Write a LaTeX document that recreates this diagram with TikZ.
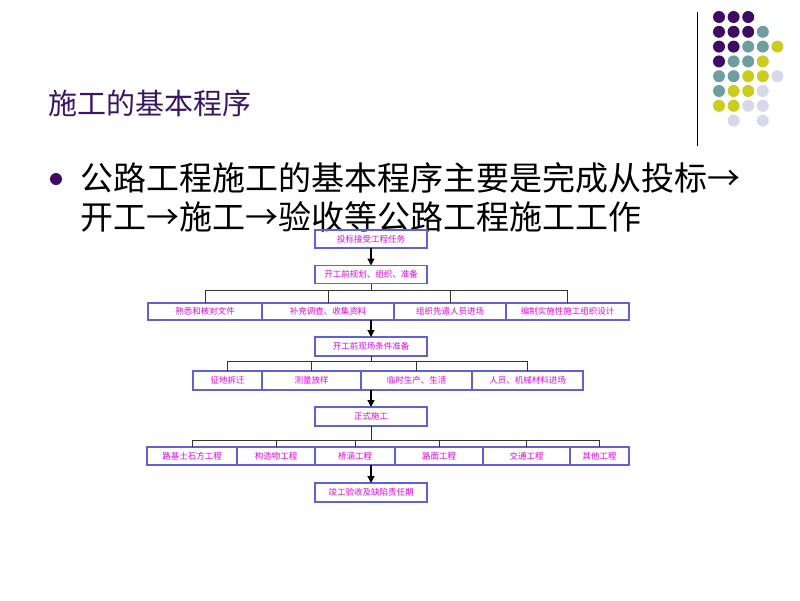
\documentclass[tikz,border=0pt]{standalone}
\usepackage{fontspec}
\setmainfont{Noto Sans CJK SC}
\usetikzlibrary{arrows.meta, positioning}
\definecolor{titlepurple}{RGB}{60,20,100}
\definecolor{dotpurple}{RGB}{62,12,100}
\definecolor{dotteal}{RGB}{110,158,160}
\definecolor{dotyellow}{RGB}{204,204,30}
\definecolor{dotlilac}{RGB}{216,216,234}
\definecolor{boxblue}{RGB}{96,96,216}
\definecolor{boxtext}{RGB}{235,0,235}
\tikzset{
  flowbox/.style={
    rectangle,
    minimum width=112pt,
    minimum height=18pt,
    inner sep=0pt,
    outer sep=0pt,
    draw=boxblue,
    line width=1.2pt,
    text=boxtext,
    font=\fontsize{8.5}{10}\selectfont,
  },
  rowbox/.style={
    flowbox,
    minimum height=17pt,
  },
  arrow/.style={
    line width=1.2pt,
    -{Triangle[length=7pt,width=7pt]},
    draw=black,
  },
  branch/.style={
    line width=0.8pt,
    draw=black!80,
  },
  deco dot/.style={
    circle,
    inner sep=0pt,
    minimum size=12pt,
  },
  bodytext/.style={
    anchor=base west,
    inner sep=0pt,
    font=\fontsize{33}{39}\selectfont,
  },
}

\begin{document}
\begin{tikzpicture}[x=1pt, y=-1pt]
    \useasboundingbox (0,0) rectangle (800,600);
    % heading and bullet text
    \node (title) [anchor=base west, inner sep=0pt, text=titlepurple, font=\fontsize{29}{34}\selectfont] at (48,114) {施工的基本程序};
    \node (bullet) [deco dot, fill=dotpurple] at (56,179) {};
    \node (intro1) [bodytext] at (80,190) {公路工程施工的基本程序主要是完成从投标→};
    \node (intro2) [bodytext] at (80,229) {开工→施工→验收等公路工程施工工作};

    % corner decoration
    \draw [line width=1pt] (697,12) -- (697,146);
    \foreach \col/\row/\shade in {0/0/dotpurple, 1/0/dotpurple, 2/0/dotpurple,
        0/1/dotpurple, 1/1/dotpurple, 2/1/dotpurple, 3/1/dotteal,
        0/2/dotpurple, 1/2/dotpurple, 2/2/dotteal, 3/2/dotteal, 4/2/dotyellow,
        0/3/dotpurple, 1/3/dotteal, 2/3/dotteal, 3/3/dotyellow,
        0/4/dotteal, 1/4/dotteal, 2/4/dotyellow, 3/4/dotyellow, 4/4/dotlilac,
        0/5/dotteal, 1/5/dotyellow, 2/5/dotyellow, 3/5/dotlilac,
        0/6/dotyellow, 1/6/dotyellow, 2/6/dotlilac, 3/6/dotlilac,
        1/7/dotlilac, 3/7/dotlilac}
      \node (d\col\row) [deco dot, fill=\shade] at ({719+14.6*\col},{17+14.8*\row}) {};

    % flow chart
    \node (b1) [flowbox] at (371,239) {投标接受工程任务};
    \node (b2) [flowbox] at (371,274.5) {开工前规划、组织、准备};
    \node (r11) [rowbox, minimum width=114pt, anchor=west] at (148,311.5) {熟悉和核对文件};
    \node (r12) [rowbox, minimum width=132pt, right=0pt of r11] {补充调查、收集资料};
    \node (r13) [rowbox, minimum width=112pt, right=0pt of r12] {组织先遣人员进场};
    \node (r14) [rowbox, minimum width=123pt, right=0pt of r13] {编制实施性施工组织设计};
    \node (b3) [flowbox, minimum height=19pt] at (371,346.5) {开工前现场条件准备};
    \node (r21) [rowbox, minimum height=19pt, minimum width=69pt, anchor=west] at (193,380.5) {征地拆迁};
    \node (r22) [rowbox, minimum height=19pt, minimum width=99pt, right=0pt of r21] {测量放样};
    \node (r23) [rowbox, minimum height=19pt, minimum width=111pt, right=0pt of r22] {临时生产、生活};
    \node (r24) [rowbox, minimum height=19pt, minimum width=111pt, right=0pt of r23] {人员、机械材料进场};
    \node (b4) [flowbox, minimum height=19pt] at (371,416.5) {正式施工};
    \node (r31) [rowbox, minimum height=18pt, minimum width=90pt, anchor=west] at (147,456) {路基土石方工程};
    \node (r32) [rowbox, minimum height=18pt, minimum width=78pt, right=0pt of r31] {构造物工程};
    \node (r33) [rowbox, minimum height=18pt, minimum width=80pt, right=0pt of r32] {桥涵工程};
    \node (r34) [rowbox, minimum height=18pt, minimum width=88pt, right=0pt of r33] {路面工程};
    \node (r35) [rowbox, minimum height=18pt, minimum width=87pt, right=0pt of r34] {交通工程};
    \node (r36) [rowbox, minimum height=18pt, minimum width=59pt, right=0pt of r35] {其他工程};
    \node (b5) [flowbox, minimum height=19pt] at (371,492.5) {竣工验收及缺陷责任期};

    \coordinate (j1) at ([yshift=-7pt]b2.south);
    \coordinate (j2) at ([yshift=-5pt]b3.south);
    \coordinate (j3) at ([yshift=-14pt]b4.south);

    \draw [arrow] (b1) -- (b2);
    \draw [branch] (b2) -- (j1);
    \foreach \n in {r11,r12,r13,r14}
      \draw [branch] (j1) -| (\n);
    \draw [arrow] (b3 |- r12.south) -- (b3);
    \draw [branch] (b3) -- (j2);
    \foreach \n in {r21,r22,r23,r24}
      \draw [branch] (j2) -| (\n);
    \draw [arrow] (b4 |- r23.south) -- (b4);
    \draw [branch] (b4) -- (j3);
    \foreach \n in {r31,r32,r33,r34,r35,r36}
      \draw [branch] (j3) -| (\n);
    \draw [arrow] (b5 |- r33.south) -- (b5);
\end{tikzpicture}
\end{document}
